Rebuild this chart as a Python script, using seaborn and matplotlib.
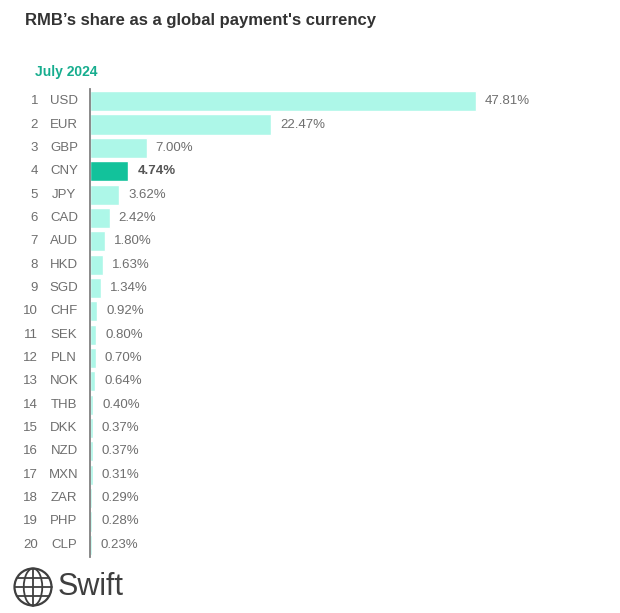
import matplotlib
matplotlib.use("Agg")
import matplotlib.pyplot as plt
import seaborn as sns
import pandas as pd
import numpy as np
from matplotlib.patches import Circle, Ellipse

ranks = list(range(1, 21))
currencies = ["USD", "EUR", "GBP", "CNY", "JPY", "CAD", "AUD", "HKD", "SGD", "CHF",
              "SEK", "PLN", "NOK", "THB", "DKK", "NZD", "MXN", "ZAR", "PHP", "CLP"]
shares = [47.81, 22.47, 7.00, 4.74, 3.62, 2.42, 1.80, 1.63, 1.34, 0.92,
          0.80, 0.70, 0.64, 0.40, 0.37, 0.37, 0.31, 0.29, 0.28, 0.23]
highlight = "CNY"

title = "RMB\u2019s share as a global payment's currency"
subtitle = "July 2024"

LIGHT = "#adf7e8"
DARK = "#12c29b"
GREY = "#6e6e6e"

sns.set_theme(style="white")
plt.rcParams['font.family'] = ['Liberation Sans', 'DejaVu Sans']

df = pd.DataFrame({"cur": currencies, "share": shares})
colors = [DARK if c == highlight else LIGHT for c in currencies]

PX = 72 / 100  # points per pixel

fig = plt.figure(figsize=(6.2, 6.13), dpi=100)
ax = fig.add_axes([90/620, 1 - 556.5/613, (600-90)/620, (556.5-89.5)/613])
sns.barplot(data=df, x="share", y="cur", hue="cur", palette=colors, legend=False,
            orient="h", width=0.86, ax=ax, saturation=1)
ax.set_xlim(0, (600-90)/(386/47.81))
ax.set_ylim(len(currencies) - 0.5, -0.5)
for s in ["top", "right", "bottom"]:
    ax.spines[s].set_visible(False)
ax.spines["left"].set_color("#808080")
ax.spines["left"].set_linewidth(1.3)
ax.set_xticks([])
ax.set_yticks([])
ax.set_xlabel("")
ax.set_ylabel("")

for i, (r, c, v) in enumerate(zip(ranks, currencies, shares)):
    bold = c == highlight
    ax.annotate(f"{v:.2f}%", xy=(v, i), xytext=(9 * PX, 0), textcoords="offset points",
                va="center", ha="left", fontsize=9.5,
                color="#555555" if bold else GREY,
                fontweight="bold" if bold else "normal")
    ax.annotate(str(r), xy=(0, i), xycoords=("axes fraction", "data"), xytext=(-52 * PX, 0),
                textcoords="offset points", va="center", ha="right", fontsize=9.5, color=GREY)
    ax.annotate(c, xy=(0, i), xycoords=("axes fraction", "data"), xytext=(-26 * PX, 0),
                textcoords="offset points", va="center", ha="center", fontsize=9.5, color=GREY)

fig.text(25/620, 1 - 20/613, title, fontsize=12, fontweight="bold", color="#333333",
         ha="left", va="center")
fig.text(35/620, 1 - 72/613, subtitle, fontsize=10, fontweight="bold", color="#16ad8e",
         ha="left", va="center")

# Swift logo
lax = fig.add_axes([0, 0, 1, 1], facecolor="none")
lax.set_xlim(0, 620)
lax.set_ylim(613, 0)
lax.axis("off")
cx, cy, r = 33, 587, 18.5
lc = "#3f3f3f"
lax.add_patch(Circle((cx, cy), r, fill=False, lw=1.6, color=lc))
lax.add_patch(Ellipse((cx, cy), r * 1.0, 2 * r, fill=False, lw=1.3, color=lc))
lax.plot([cx, cx], [cy - r, cy + r], color=lc, lw=1.3)
for dy in (-r * 0.5, 0, r * 0.5):
    hw = np.sqrt(r**2 - dy**2)
    lax.plot([cx - hw, cx + hw], [cy + dy, cy + dy], color=lc, lw=1.3)
lax.text(58, 587, "Swift", fontsize=22, color=lc, ha="left", va="center")

fig.savefig("out.png", dpi=100)
